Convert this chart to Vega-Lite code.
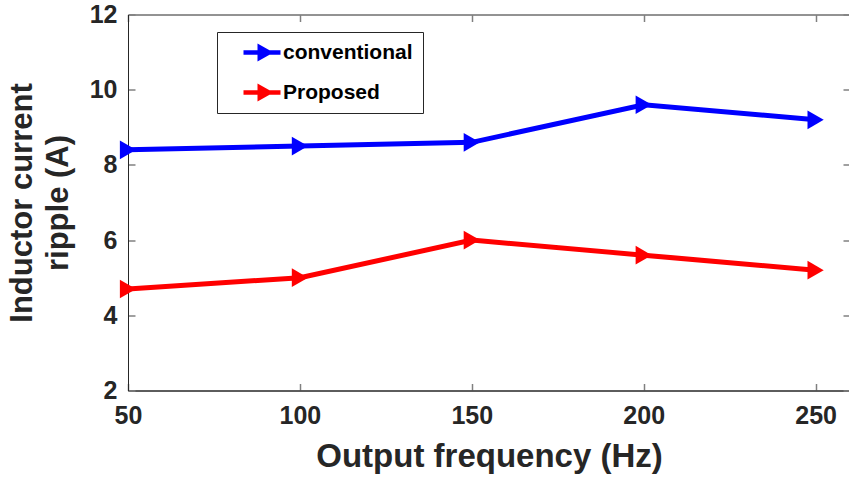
{
  "$schema": "https://vega.github.io/schema/vega-lite/v6.json",
  "width": 722,
  "height": 376,
  "autosize": "none",
  "padding": {"left": 128, "top": 14.5, "right": 0, "bottom": 86.5},
  "background": "white",
  "config": {
    "font": "Liberation Sans",
    "view": {"stroke": "#262626", "strokeWidth": 1},
    "axis": {
      "grid": false,
      "labelFont": "Liberation Sans",
      "labelFontWeight": "bold",
      "labelFontSize": 25,
      "labelColor": "#262626",
      "labelFlush": false,
      "titleFont": "Liberation Sans",
      "titleFontWeight": "bold",
      "titleColor": "#262626",
      "domainColor": "#262626",
      "domainWidth": 1,
      "tickColor": "#808080",
      "tickWidth": 1.5,
      "tickSize": -7
    },
    "legend": {
      "orient": "none",
      "legendX": 89,
      "legendY": 17.5,
      "padding": 10,
      "strokeColor": "#262626",
      "fillColor": "white",
      "symbolSize": 400,
      "symbolType": "M0.6,-0.22H4.3V0.22H0.6Z M2.0,-0.9L3.6,0L2.0,0.9Z",
      "symbolStrokeWidth": 0,
      "labelFont": "Liberation Sans",
      "labelFontWeight": "bold",
      "labelFontSize": 21,
      "labelColor": "black",
      "labelOffset": 35,
      "labelLimit": 400,
      "rowPadding": 18
    }
  },
  "data": {
    "values": [
      {"frequency": 50, "ripple": 8.4, "method": "conventional"},
      {"frequency": 100, "ripple": 8.5, "method": "conventional"},
      {"frequency": 150, "ripple": 8.6, "method": "conventional"},
      {"frequency": 200, "ripple": 9.6, "method": "conventional"},
      {"frequency": 250, "ripple": 9.2, "method": "conventional"},
      {"frequency": 50, "ripple": 4.7, "method": "Proposed"},
      {"frequency": 100, "ripple": 5.0, "method": "Proposed"},
      {"frequency": 150, "ripple": 6.0, "method": "Proposed"},
      {"frequency": 200, "ripple": 5.6, "method": "Proposed"},
      {"frequency": 250, "ripple": 5.2, "method": "Proposed"}
    ]
  },
  "layer": [
    {
      "mark": {"type": "line", "strokeWidth": 5},
      "encoding": {
        "x": {
          "field": "frequency", "type": "quantitative",
          "scale": {"domain": [50, 260], "nice": false, "zero": false},
          "axis": {"values": [50, 100, 150, 200, 250], "title": "Output frequency (Hz)", "titleFontSize": 33, "labelPadding": 20, "titlePadding": 12}
        },
        "y": {
          "field": "ripple", "type": "quantitative",
          "scale": {"domain": [2, 12], "nice": false, "zero": false},
          "axis": {"values": [2, 4, 6, 8, 10, 12], "title": ["Inductor current", "ripple (A)"], "titleFontSize": 31, "titleLineHeight": 36, "labelPadding": 18, "titlePadding": 15}
        },
        "color": {
          "field": "method", "type": "nominal",
          "scale": {"domain": ["conventional", "Proposed"], "range": ["#0000FF", "#FF0000"]},
          "legend": {"title": null}
        }
      }
    },
    {
      "mark": {"type": "point", "shape": "triangle-right", "filled": true, "size": 350, "opacity": 1},
      "encoding": {
        "x": {"field": "frequency", "type": "quantitative", "axis": {"orient": "top", "labels": false, "title": null, "domain": false, "values": [50, 100, 150, 200, 250]}},
        "y": {"field": "ripple", "type": "quantitative", "axis": {"orient": "right", "labels": false, "title": null, "domain": false, "values": [2, 4, 6, 8, 10, 12]}},
        "color": {"field": "method", "type": "nominal", "legend": {"title": null}}
      }
    }
  ],
  "resolve": {"axis": {"x": "independent", "y": "independent"}}
}
